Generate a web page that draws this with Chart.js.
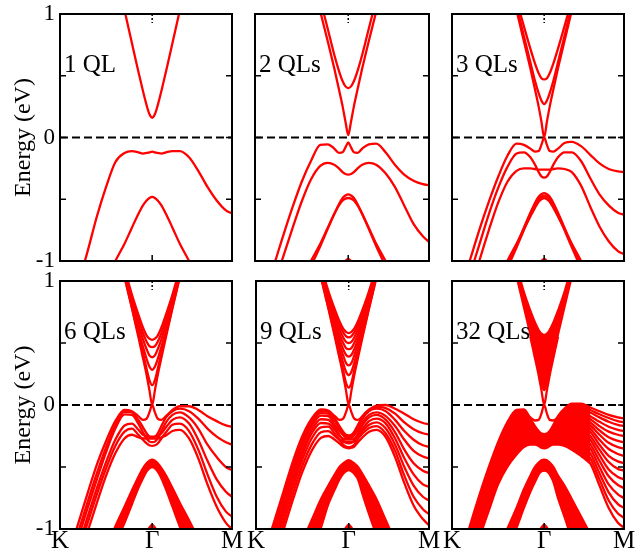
<!DOCTYPE html>
<html>
<head>
<meta charset="utf-8">
<title>Band structure vs film thickness</title>
<script src="https://cdn.jsdelivr.net/npm/chart.js@4.4.0/dist/chart.umd.min.js"></script>
<style>
  body { margin: 0; background: #fff; }
  #wrap { position: relative; width: 641px; height: 552px; }
  #wrap canvas { position: absolute; left: 0; top: 0; }
</style>
</head>
<body>
<div id="wrap">
  <canvas id="p1" width="641" height="552"></canvas>
  <canvas id="p2" width="641" height="552"></canvas>
  <canvas id="p3" width="641" height="552"></canvas>
  <canvas id="p6" width="641" height="552"></canvas>
  <canvas id="p9" width="641" height="552"></canvas>
  <canvas id="p32" width="641" height="552"></canvas>
</div>
<script>
const _ = null;

// k path: K = -1, Gamma = 0, M = 0.866 (|GM| / |GK|)
const kGrid = [-1, -0.9, -0.8, -0.7, -0.6, -0.5, -0.4, -0.3, -0.22, -0.15, -0.1, -0.06, -0.03, 0,
               0.03, 0.06, 0.1, 0.15, 0.22, 0.3, 0.4, 0.5, 0.6, 0.7, 0.8, 0.866];
const xTickValues = [-1, 0, 0.866];
const xTickLabels = ['K', 'Γ', 'M'];
const yTickValues = [-1, 0, 1];
const yMinorTicks = [-1, -0.5, 0, 0.5, 1];

// 1 QL
const cond1QL = [
  [_,_,_,_,_,_,1.35,1.03,0.765,0.534,0.376,0.26,0.19,0.16,0.19,0.26,0.376,0.534,0.765,1.03,1.35,_,_,_,_,_]
];
const val1QL = [
  [-1.68,-1.43,-1.18,-0.92,-0.64,-0.40,-0.20,-0.125,-0.11,-0.12,-0.13,-0.125,-0.12,-0.115,-0.12,-0.125,-0.13,-0.12,-0.11,-0.11,-0.16,-0.27,-0.40,-0.51,-0.59,-0.615],
  [_,_,_,_,-1.3,-1.15,-1.0,-0.86,-0.73,-0.62,-0.55,-0.51,-0.49,-0.48,-0.49,-0.51,-0.55,-0.62,-0.73,-0.86,-1.0,-1.15,-1.3,_,_,_]
];

// 2 QLs
const cond2QL = [
  [_,_,_,_,_,_,1.33,1.02,0.78,0.56,0.39,0.25,0.13,0.02,0.13,0.25,0.39,0.56,0.78,1.02,1.33,_,_,_,_,_],
  [_,_,_,_,_,_,1.45,1.12,0.88,0.67,0.54,0.455,0.414,0.40,0.414,0.455,0.54,0.67,0.88,1.12,1.45,_,_,_,_,_]
];
const val2QL = [
  [-1.5,-1.25,-1.04,-0.80,-0.57,-0.36,-0.19,-0.06,-0.055,-0.09,-0.125,-0.12,-0.08,-0.04,-0.08,-0.12,-0.125,-0.09,-0.055,-0.05,-0.12,-0.22,-0.30,-0.35,-0.378,-0.386],
  [-1.7,-1.45,-1.2,-0.97,-0.74,-0.52,-0.34,-0.23,-0.205,-0.22,-0.25,-0.28,-0.295,-0.30,-0.295,-0.28,-0.25,-0.22,-0.205,-0.22,-0.29,-0.40,-0.55,-0.70,-0.80,-0.845],
  [_,_,_,_,-1.35,-1.2,-1.04,-0.88,-0.74,-0.62,-0.54,-0.49,-0.47,-0.46,-0.47,-0.49,-0.54,-0.62,-0.74,-0.88,-1.04,-1.2,-1.35,_,_,_],
  [_,_,_,_,-1.3,-1.15,-1.0,-0.86,-0.73,-0.62,-0.55,-0.51,-0.495,-0.49,-0.495,-0.51,-0.55,-0.62,-0.73,-0.86,-1.0,-1.15,-1.3,_,_,_]
];

// 3 QLs
const cond3QL = [
  [_,_,_,_,_,_,1.35,1.03,0.78,0.56,0.39,0.25,0.13,0.0,0.13,0.25,0.39,0.56,0.78,1.03,1.35,_,_,_,_,_],
  [_,_,_,_,_,_,1.4,1.07,0.82,0.61,0.46,0.36,0.30,0.27,0.30,0.36,0.46,0.61,0.82,1.07,1.4,_,_,_,_,_],
  [_,_,_,_,_,_,1.45,1.12,0.90,0.72,0.60,0.52,0.48,0.47,0.48,0.52,0.60,0.72,0.90,1.12,1.45,_,_,_,_,_]
];
const val3QL = [
  [-1.45,-1.22,-0.98,-0.74,-0.52,-0.32,-0.15,-0.05,-0.06,-0.09,-0.115,-0.11,-0.06,0.0,-0.06,-0.11,-0.115,-0.09,-0.045,-0.035,-0.07,-0.14,-0.21,-0.255,-0.275,-0.28],
  [-1.6,-1.36,-1.1,-0.86,-0.62,-0.41,-0.24,-0.13,-0.12,-0.16,-0.22,-0.28,-0.315,-0.325,-0.315,-0.28,-0.22,-0.16,-0.12,-0.12,-0.19,-0.33,-0.46,-0.55,-0.61,-0.625],
  [-1.75,-1.5,-1.24,-0.99,-0.75,-0.53,-0.36,-0.27,-0.25,-0.25,-0.255,-0.26,-0.26,-0.26,-0.26,-0.26,-0.255,-0.25,-0.255,-0.28,-0.39,-0.56,-0.72,-0.84,-0.92,-0.945],
  [_,_,_,_,-1.35,-1.2,-1.03,-0.87,-0.73,-0.61,-0.53,-0.48,-0.46,-0.45,-0.46,-0.48,-0.53,-0.61,-0.73,-0.87,-1.03,-1.2,-1.35,_,_,_],
  [_,_,_,_,-1.4,-1.23,-1.06,-0.89,-0.75,-0.63,-0.55,-0.50,-0.48,-0.47,-0.48,-0.50,-0.55,-0.63,-0.75,-0.89,-1.06,-1.23,-1.4,_,_,_],
  [_,_,_,_,-1.3,-1.16,-1.0,-0.86,-0.74,-0.64,-0.57,-0.52,-0.50,-0.49,-0.50,-0.52,-0.57,-0.64,-0.74,-0.86,-1.0,-1.16,-1.3,_,_,_]
];

// 6 QLs
const cond6QL = [
  [_,_,_,_,_,_,1.35,1.03,0.78,0.55,0.38,0.24,0.12,0.0,0.12,0.24,0.38,0.55,0.78,1.03,1.35,_,_,_,_,_],
  [_,_,_,_,_,_,1.37,1.04,0.79,0.57,0.42,0.29,0.20,0.16,0.20,0.29,0.42,0.57,0.79,1.04,1.37,_,_,_,_,_],
  [_,_,_,_,_,_,1.39,1.05,0.81,0.60,0.47,0.37,0.31,0.283,0.31,0.37,0.47,0.60,0.81,1.05,1.39,_,_,_,_,_],
  [_,_,_,_,_,_,1.42,1.07,0.84,0.65,0.53,0.45,0.40,0.385,0.40,0.45,0.53,0.65,0.84,1.07,1.42,_,_,_,_,_],
  [_,_,_,_,_,_,1.45,1.09,0.87,0.69,0.58,0.51,0.475,0.466,0.475,0.51,0.58,0.69,0.87,1.09,1.45,_,_,_,_,_],
  [_,_,_,_,_,_,1.47,1.11,0.89,0.73,0.625,0.56,0.535,0.525,0.535,0.56,0.625,0.73,0.89,1.11,1.47,_,_,_,_,_]
];
const val6QL = [
  [-1.42,-1.19,-0.95,-0.71,-0.48,-0.29,-0.13,-0.04,-0.05,-0.09,-0.12,-0.11,-0.06,0.0,-0.06,-0.11,-0.12,-0.09,-0.04,-0.01,-0.01,-0.04,-0.09,-0.13,-0.165,-0.175],
  [-1.5,-1.26,-1.02,-0.78,-0.55,-0.34,-0.16,-0.055,-0.06,-0.12,-0.18,-0.23,-0.255,-0.26,-0.255,-0.23,-0.17,-0.1,-0.05,-0.03,-0.05,-0.11,-0.19,-0.255,-0.3,-0.32],
  [-1.55,-1.31,-1.07,-0.83,-0.6,-0.38,-0.19,-0.075,-0.08,-0.15,-0.22,-0.27,-0.295,-0.3,-0.295,-0.27,-0.21,-0.14,-0.08,-0.06,-0.1,-0.19,-0.32,-0.42,-0.5,-0.525],
  [-1.62,-1.38,-1.14,-0.9,-0.67,-0.46,-0.28,-0.165,-0.15,-0.2,-0.24,-0.25,-0.255,-0.255,-0.255,-0.25,-0.23,-0.18,-0.12,-0.1,-0.15,-0.28,-0.45,-0.6,-0.7,-0.74],
  [-1.67,-1.43,-1.19,-0.95,-0.72,-0.51,-0.33,-0.215,-0.19,-0.24,-0.28,-0.31,-0.325,-0.33,-0.325,-0.31,-0.27,-0.22,-0.16,-0.15,-0.21,-0.36,-0.56,-0.74,-0.86,-0.9],
  [-1.74,-1.5,-1.26,-1.02,-0.79,-0.57,-0.39,-0.27,-0.24,-0.26,-0.27,-0.27,-0.27,-0.27,-0.27,-0.27,-0.26,-0.245,-0.21,-0.2,-0.27,-0.43,-0.64,-0.82,-0.95,-1.0]
];
const deepTop6 = [_,_,_,_,-1.32,-1.15,-0.98,-0.82,-0.69,-0.58,-0.51,-0.47,-0.45,-0.44,-0.45,-0.47,-0.51,-0.57,-0.67,-0.79,-0.93,-1.08,-1.24,_,_,_];
const deepBottom6 = [_,_,_,_,-1.48,-1.3,-1.12,-0.95,-0.8,-0.67,-0.59,-0.535,-0.51,-0.50,-0.51,-0.535,-0.59,-0.68,-0.82,-0.98,-1.15,-1.32,-1.5,_,_,_];

// 9 QLs
const cond9QL = [
  [_,_,_,_,_,_,1.35,1.03,0.78,0.55,0.38,0.24,0.12,0.0,0.12,0.24,0.38,0.55,0.78,1.03,1.35,_,_,_,_,_],
  [_,_,_,_,_,_,1.37,1.04,0.79,0.57,0.41,0.28,0.18,0.14,0.18,0.28,0.41,0.57,0.79,1.04,1.37,_,_,_,_,_],
  [_,_,_,_,_,_,1.38,1.05,0.80,0.59,0.45,0.34,0.27,0.24,0.27,0.34,0.45,0.59,0.80,1.05,1.38,_,_,_,_,_],
  [_,_,_,_,_,_,1.40,1.06,0.82,0.62,0.49,0.40,0.34,0.32,0.34,0.40,0.49,0.62,0.82,1.06,1.40,_,_,_,_,_],
  [_,_,_,_,_,_,1.42,1.07,0.84,0.65,0.53,0.45,0.405,0.39,0.405,0.45,0.53,0.65,0.84,1.07,1.42,_,_,_,_,_],
  [_,_,_,_,_,_,1.44,1.09,0.86,0.68,0.57,0.50,0.46,0.45,0.46,0.50,0.57,0.68,0.86,1.09,1.44,_,_,_,_,_],
  [_,_,_,_,_,_,1.46,1.10,0.88,0.71,0.61,0.545,0.51,0.50,0.51,0.545,0.61,0.71,0.88,1.10,1.46,_,_,_,_,_],
  [_,_,_,_,_,_,1.48,1.12,0.90,0.74,0.645,0.585,0.555,0.545,0.555,0.585,0.645,0.74,0.90,1.12,1.48,_,_,_,_,_],
  [_,_,_,_,_,_,1.50,1.13,0.92,0.77,0.675,0.615,0.59,0.58,0.59,0.615,0.675,0.77,0.92,1.13,1.50,_,_,_,_,_]
];
const val9QL = [
  [-1.41,-1.17,-0.93,-0.69,-0.45,-0.25,-0.11,-0.035,-0.045,-0.09,-0.12,-0.11,-0.06,0.0,-0.06,-0.11,-0.12,-0.09,-0.04,-0.005,0.0,-0.03,-0.07,-0.115,-0.145,-0.154],
  [-1.44,-1.2,-0.96,-0.72,-0.48,-0.27,-0.13,-0.05,-0.055,-0.11,-0.17,-0.215,-0.24,-0.245,-0.24,-0.215,-0.16,-0.09,-0.035,-0.015,-0.025,-0.07,-0.14,-0.195,-0.228,-0.237],
  [-1.48,-1.24,-1.0,-0.76,-0.52,-0.3,-0.15,-0.065,-0.07,-0.13,-0.19,-0.24,-0.265,-0.275,-0.265,-0.24,-0.18,-0.11,-0.05,-0.03,-0.05,-0.12,-0.21,-0.28,-0.325,-0.337],
  [-1.52,-1.28,-1.04,-0.8,-0.56,-0.33,-0.17,-0.085,-0.09,-0.16,-0.21,-0.24,-0.255,-0.26,-0.255,-0.24,-0.2,-0.14,-0.08,-0.06,-0.09,-0.17,-0.28,-0.37,-0.415,-0.43],
  [-1.55,-1.31,-1.07,-0.83,-0.59,-0.37,-0.2,-0.115,-0.12,-0.18,-0.24,-0.285,-0.305,-0.31,-0.305,-0.285,-0.23,-0.16,-0.1,-0.08,-0.12,-0.22,-0.36,-0.47,-0.53,-0.55],
  [-1.59,-1.35,-1.11,-0.87,-0.63,-0.4,-0.23,-0.145,-0.15,-0.2,-0.25,-0.27,-0.28,-0.28,-0.28,-0.27,-0.24,-0.19,-0.13,-0.11,-0.15,-0.27,-0.43,-0.56,-0.64,-0.66],
  [-1.62,-1.38,-1.14,-0.9,-0.66,-0.44,-0.27,-0.18,-0.175,-0.23,-0.28,-0.32,-0.335,-0.34,-0.335,-0.32,-0.27,-0.21,-0.16,-0.14,-0.19,-0.32,-0.5,-0.65,-0.74,-0.77],
  [-1.67,-1.43,-1.19,-0.95,-0.71,-0.49,-0.32,-0.22,-0.21,-0.25,-0.28,-0.295,-0.3,-0.3,-0.3,-0.295,-0.27,-0.23,-0.185,-0.17,-0.23,-0.37,-0.57,-0.74,-0.84,-0.88],
  [-1.72,-1.48,-1.24,-1.0,-0.76,-0.54,-0.37,-0.265,-0.25,-0.28,-0.31,-0.335,-0.345,-0.35,-0.345,-0.335,-0.3,-0.26,-0.215,-0.2,-0.26,-0.42,-0.63,-0.81,-0.92,-0.97]
];
const deepTop9 = [_,_,_,_,-1.27,-1.1,-0.93,-0.76,-0.65,-0.56,-0.50,-0.47,-0.455,-0.445,-0.455,-0.47,-0.50,-0.56,-0.65,-0.76,-0.93,-1.1,-1.27,_,_,_];
const deepBottom9 = [_,_,_,_,-1.55,-1.38,-1.2,-0.99,-0.8,-0.68,-0.6,-0.555,-0.535,-0.525,-0.535,-0.555,-0.6,-0.72,-0.88,-1.05,-1.25,-1.42,-1.6,_,_,_];

// 32 QLs: bulk continua drawn as filled regions between their edge bands
const condLow32 = [_,_,_,_,_,_,1.36,1.04,0.79,0.57,0.41,0.28,0.18,0.12,0.18,0.28,0.41,0.57,0.79,1.04,1.36,_,_,_,_,_];
const condHigh32 = [_,_,_,_,_,_,1.5,1.13,0.91,0.76,0.665,0.605,0.575,0.565,0.575,0.605,0.665,0.76,0.91,1.13,1.5,_,_,_,_,_];
const surfCond32 = [_,_,_,_,_,_,_,_,_,0.55,0.38,0.24,0.12,0.0,0.12,0.24,0.38,0.55,_,_,_,_,_,_,_,_];
const surfVal32 = [_,_,_,_,_,_,_,_,-0.05,-0.10,-0.125,-0.12,-0.07,0.0,-0.07,-0.12,-0.125,-0.10,-0.05,_,_,_,_,_,_,_];
const valTop32 = [-1.45,-1.22,-0.96,-0.72,-0.5,-0.3,-0.14,-0.04,-0.035,-0.11,-0.17,-0.21,-0.23,-0.235,-0.23,-0.21,-0.16,-0.09,-0.03,0.01,0.01,-0.02,_,_,_,_];
const valBottom32 = [-1.9,-1.65,-1.35,-1.07,-0.85,-0.64,-0.5,-0.4,-0.34,-0.32,-0.32,-0.33,-0.345,-0.35,-0.345,-0.33,-0.32,-0.32,-0.33,-0.36,-0.41,-0.47,_,_,_,_];
const fanM32 = [
  [_,_,_,_,_,_,_,_,_,_,_,_,_,_,_,_,_,_,_,_,0.01,-0.02,-0.05,-0.08,-0.10,-0.11],
  [_,_,_,_,_,_,_,_,_,_,_,_,_,_,_,_,_,_,_,_,-0.01,-0.04,-0.075,-0.105,-0.13,-0.14],
  [_,_,_,_,_,_,_,_,_,_,_,_,_,_,_,_,_,_,_,_,-0.03,-0.06,-0.1,-0.135,-0.16,-0.17],
  [_,_,_,_,_,_,_,_,_,_,_,_,_,_,_,_,_,_,_,_,-0.05,-0.09,-0.135,-0.175,-0.2,-0.21],
  [_,_,_,_,_,_,_,_,_,_,_,_,_,_,_,_,_,_,_,_,-0.07,-0.115,-0.17,-0.215,-0.24,-0.25],
  [_,_,_,_,_,_,_,_,_,_,_,_,_,_,_,_,_,_,_,_,-0.09,-0.14,-0.205,-0.26,-0.29,-0.30],
  [_,_,_,_,_,_,_,_,_,_,_,_,_,_,_,_,_,_,_,_,-0.11,-0.165,-0.24,-0.305,-0.34,-0.35],
  [_,_,_,_,_,_,_,_,_,_,_,_,_,_,_,_,_,_,_,_,-0.13,-0.19,-0.28,-0.355,-0.395,-0.41],
  [_,_,_,_,_,_,_,_,_,_,_,_,_,_,_,_,_,_,_,_,-0.15,-0.215,-0.32,-0.41,-0.455,-0.47],
  [_,_,_,_,_,_,_,_,_,_,_,_,_,_,_,_,_,_,_,_,-0.18,-0.25,-0.36,-0.46,-0.515,-0.53],
  [_,_,_,_,_,_,_,_,_,_,_,_,_,_,_,_,_,_,_,_,-0.21,-0.28,-0.405,-0.52,-0.58,-0.6],
  [_,_,_,_,_,_,_,_,_,_,_,_,_,_,_,_,_,_,_,_,-0.24,-0.315,-0.45,-0.575,-0.645,-0.67],
  [_,_,_,_,_,_,_,_,_,_,_,_,_,_,_,_,_,_,_,_,-0.27,-0.35,-0.5,-0.64,-0.72,-0.75],
  [_,_,_,_,_,_,_,_,_,_,_,_,_,_,_,_,_,_,_,_,-0.31,-0.39,-0.55,-0.705,-0.8,-0.83],
  [_,_,_,_,_,_,_,_,_,_,_,_,_,_,_,_,_,_,_,_,-0.35,-0.43,-0.6,-0.77,-0.875,-0.91],
  [_,_,_,_,_,_,_,_,_,_,_,_,_,_,_,_,_,_,_,_,-0.41,-0.47,-0.65,-0.83,-0.95,-0.99]
];
const deepTop32 = [_,_,_,_,-1.36,-1.18,-1.0,-0.83,-0.68,-0.57,-0.50,-0.465,-0.445,-0.44,-0.445,-0.465,-0.50,-0.57,-0.65,-0.76,-0.9,-1.04,-1.18,_,_,_];
const deepBottom32 = [_,_,_,_,-1.55,-1.36,-1.17,-0.99,-0.83,-0.7,-0.62,-0.56,-0.535,-0.53,-0.535,-0.56,-0.62,-0.75,-0.9,-1.08,-1.28,-1.45,-1.6,_,_,_];

// small band top just touching -1 at Gamma
const bumpThin = [_,_,_,_,_,_,_,_,_,_,_,-1.03,-1.0,-0.982,-1.0,-1.03,_,_,_,_,_,_,_,_,_,_];
const bumpThick = [_,_,_,_,_,_,_,_,_,_,_,-1.03,-0.99,-0.965,-0.99,-1.03,_,_,_,_,_,_,_,_,_,_];

const RED = '#ff0000';
const SERIF = 'Liberation Serif';

function toPoints(arr) {
  return kGrid.map((k, i) => ({ x: k, y: arr[i] }));
}
function lineSet(arr) {
  return {
    data: toPoints(arr), borderColor: RED, borderWidth: 2.3, fill: false,
    pointRadius: 0, cubicInterpolationMode: 'monotone', spanGaps: false
  };
}
// two edges of a dense band bundle, area between them filled
function bundleSets(upper, lower) {
  const a = lineSet(upper);
  const b = lineSet(lower);
  b.fill = '-1';
  b.backgroundColor = RED;
  return [a, b];
}
function bumpSet(arr) {
  const s = lineSet(arr);
  s.fill = { value: -1 };
  s.backgroundColor = RED;
  return s;
}

// frame, inner ticks, dashed Fermi level, panel caption
const panelDecor = {
  id: 'panelDecor',
  beforeDatasetsDraw(chart) {
    const { ctx, chartArea: a, scales: { y } } = chart;
    const y0 = y.getPixelForValue(0);
    ctx.save();
    ctx.strokeStyle = '#000';
    ctx.lineWidth = 2;
    ctx.setLineDash([8, 4]);
    ctx.beginPath();
    ctx.moveTo(a.left, y0);
    ctx.lineTo(a.right, y0);
    ctx.stroke();
    ctx.restore();
  },
  afterDatasetsDraw(chart, args, opts) {
    const { ctx, chartArea: a, scales: { x, y } } = chart;
    ctx.save();
    ctx.strokeStyle = '#000';
    ctx.lineWidth = 2;
    ctx.strokeRect(a.left, a.top, a.right - a.left, a.bottom - a.top);
    ctx.lineWidth = 1.5;
    ctx.beginPath();
    yMinorTicks.forEach(v => {
      const py = y.getPixelForValue(v);
      ctx.moveTo(a.left, py); ctx.lineTo(a.left + 6, py);
      ctx.moveTo(a.right, py); ctx.lineTo(a.right - 6, py);
    });
    const gx = x.getPixelForValue(0);
    ctx.moveTo(gx, a.bottom); ctx.lineTo(gx, a.bottom - 6);
    ctx.stroke();
    ctx.setLineDash([2, 2]);
    ctx.beginPath();
    ctx.moveTo(gx, a.top); ctx.lineTo(gx, a.top + 9);
    ctx.stroke();
    ctx.setLineDash([]);
    ctx.fillStyle = '#000';
    ctx.font = '25px "' + SERIF + '"';
    ctx.textBaseline = 'alphabetic';
    ctx.fillText(opts.text, a.left + 4, a.top + 58);
    ctx.restore();
  }
};

function makePanel(id, caption, area, leftAxis, bottomAxis, datasets) {
  const axisBelow = 552 - area.bottom;
  new Chart(document.getElementById(id), {
    type: 'line',
    data: { datasets: datasets },
    options: {
      responsive: false,
      animation: false,
      events: [],
      layout: {
        padding: {
          left: leftAxis ? 0 : area.left,
          top: area.top,
          right: 641 - area.right,
          bottom: bottomAxis ? 0 : axisBelow
        }
      },
      plugins: {
        legend: { display: false },
        tooltip: { enabled: false },
        panelDecor: { text: caption }
      },
      scales: {
        x: {
          type: 'linear', min: -1, max: 0.866,
          display: bottomAxis,
          grid: { display: false, drawTicks: false },
          border: { display: false },
          afterBuildTicks: s => { s.ticks = xTickValues.map(v => ({ value: v })); },
          afterFit: s => {
            s.height = bottomAxis ? axisBelow : 0;
            s.paddingLeft = 0;
            s.paddingRight = 0;
          },
          ticks: {
            color: '#000', font: { family: SERIF, size: 25, lineHeight: 1 }, padding: 0,
            maxRotation: 0, autoSkip: false,
            callback: (v, i) => xTickLabels[i]
          }
        },
        y: {
          type: 'linear', min: -1, max: 1,
          display: leftAxis,
          grid: { display: false, drawTicks: false },
          border: { display: false },
          afterBuildTicks: s => { s.ticks = yTickValues.map(v => ({ value: v })); },
          afterFit: s => {
            s.width = leftAxis ? area.left : 0;
            s.paddingTop = 0;
            s.paddingBottom = 0;
          },
          ticks: {
            color: '#000', font: { family: SERIF, size: 23 }, padding: 5,
            callback: v => String(v)
          },
          title: {
            display: true, text: 'Energy (eV)', color: '#000',
            font: { family: SERIF, size: 24 }, padding: { top: 9, bottom: 0 }
          }
        }
      }
    },
    plugins: [panelDecor]
  });
}

makePanel('p1', '1 QL', { left: 60, right: 232, top: 14, bottom: 261 }, true, false,
  [...cond1QL.map(lineSet), ...val1QL.map(lineSet)]);

makePanel('p2', '2 QLs', { left: 255, right: 429, top: 14, bottom: 261 }, false, false,
  [...cond2QL.map(lineSet), ...val2QL.map(lineSet), bumpSet(bumpThin)]);

makePanel('p3', '3 QLs', { left: 452, right: 624, top: 14, bottom: 261 }, false, false,
  [...cond3QL.map(lineSet), ...val3QL.map(lineSet), bumpSet(bumpThin)]);

makePanel('p6', '6 QLs', { left: 60, right: 232, top: 281, bottom: 529 }, true, true,
  [...bundleSets(deepTop6, deepBottom6), ...cond6QL.map(lineSet), ...val6QL.map(lineSet), bumpSet(bumpThick)]);

makePanel('p9', '9 QLs', { left: 256, right: 429, top: 281, bottom: 529 }, false, true,
  [...bundleSets(deepTop9, deepBottom9), ...cond9QL.map(lineSet), ...val9QL.map(lineSet), bumpSet(bumpThick)]);

makePanel('p32', '32 QLs', { left: 452, right: 624, top: 281, bottom: 529 }, false, true,
  [...bundleSets(condLow32, condHigh32), ...bundleSets(valTop32, valBottom32),
   ...bundleSets(deepTop32, deepBottom32), ...fanM32.map(lineSet),
   lineSet(surfCond32), lineSet(surfVal32), bumpSet(bumpThick)]);
</script>
</body>
</html>
